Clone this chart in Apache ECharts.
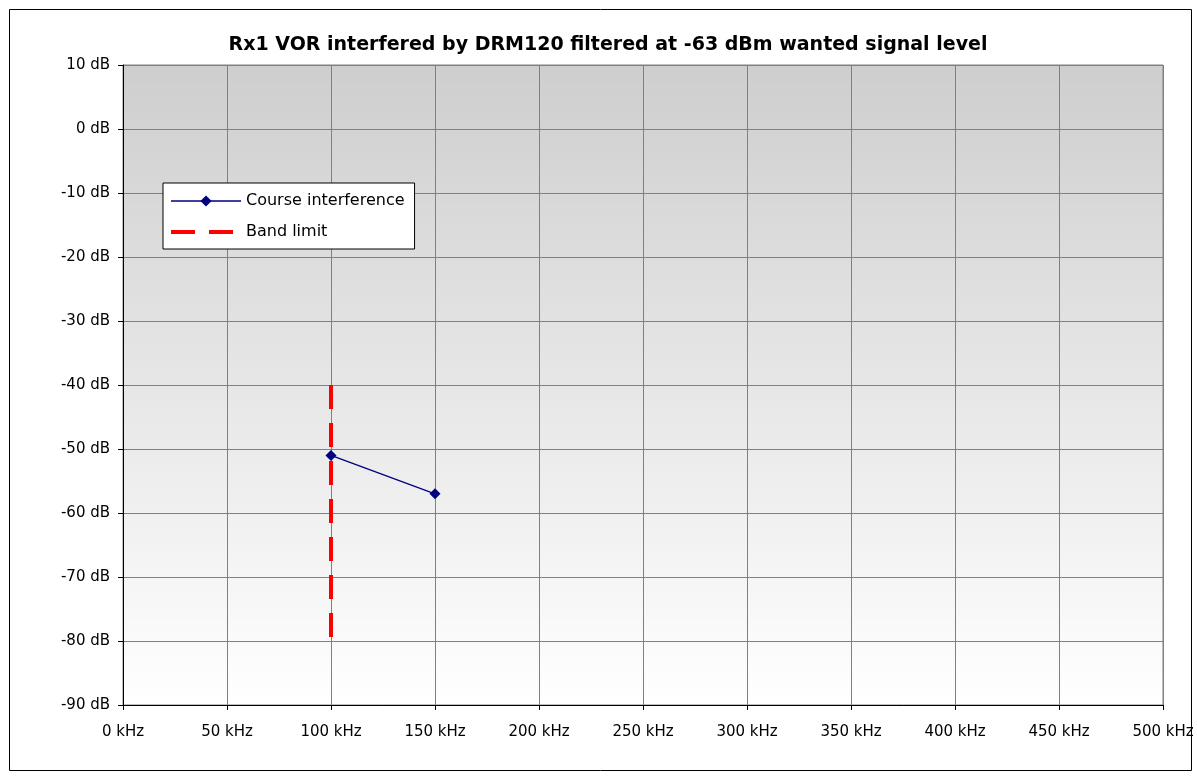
<!DOCTYPE html>
<html>
<head>
<meta charset="utf-8">
<script src="https://cdn.jsdelivr.net/npm/echarts@6/dist/echarts.min.js"></script>
<style>
  html, body { margin: 0; padding: 0; background: #fff; }
  #chart { width: 1197px; height: 776px; }
</style>
</head>
<body>
<div id="chart"></div>
<script>
// Frequency offsets (kHz) and protection ratio values (dB)
const courseFreq = [100, 150];
const courseLevel = [-51, -57];
// Vertical band limit marker
const bandFreq = [100, 100];
const bandLevel = [-40, -80];

const chart = echarts.init(document.getElementById('chart'));
const font = 'DejaVu Sans, Arial, sans-serif';

chart.setOption({
  animation: false,
  backgroundColor: '#ffffff',
  title: {
    text: 'Rx1 VOR interfered by DRM120 filtered at -63 dBm wanted signal level',
    left: 603, top: 31, textAlign: 'center',
    textStyle: { fontFamily: font, fontSize: 19, fontWeight: 'bold', color: '#000' }
  },
  graphic: [{
    type: 'rect', left: 7, top: 7, silent: true, z: -1,
    shape: { width: 1182, height: 761 },
    style: { fill: 'none', stroke: '#000', lineWidth: 1 }
  }],
  grid: {
    left: 123, top: 65, width: 1040, height: 640,
    show: true, borderColor: '#808080', borderWidth: 1,
    backgroundColor: new echarts.graphic.LinearGradient(0, 0, 0, 1, [
      { offset: 0, color: '#cecece' },
      { offset: 1, color: '#ffffff' }
    ])
  },
  legend: {
    left: 163, top: 183, orient: 'vertical',
    backgroundColor: '#ffffff', borderColor: '#000', borderWidth: 1,
    padding: [10, 10, 9, 6], itemGap: 15, itemWidth: 70, itemHeight: 14,
    textStyle: { fontFamily: font, fontSize: 16, color: '#000' },
    data: [
      { name: 'Course interference', lineStyle: { width: 1.3 } },
      { name: 'Band limit', itemStyle: { opacity: 0 }, lineStyle: { width: 4, type: [24, 14] } }
    ]
  },
  xAxis: {
    type: 'value', min: 0, max: 500, interval: 50,
    axisLine: { show: true, onZero: false, lineStyle: { color: '#000', width: 1 } },
    axisTick: { show: true, length: 5, lineStyle: { color: '#000' } },
    axisLabel: { formatter: '{value} kHz', fontFamily: font, fontSize: 15, color: '#000', margin: 20 },
    splitLine: { show: true, lineStyle: { color: '#808080', width: 1 } }
  },
  yAxis: {
    type: 'value', min: -90, max: 10, interval: 10,
    axisLine: { show: true, onZero: false, lineStyle: { color: '#000', width: 1 } },
    axisTick: { show: true, length: 5, lineStyle: { color: '#000' } },
    axisLabel: { formatter: '{value} dB', fontFamily: font, fontSize: 15, color: '#000', margin: 13 },
    splitLine: { show: true, lineStyle: { color: '#808080', width: 1 } }
  },
  series: [
    {
      name: 'Course interference', type: 'line', z: 3,
      data: courseFreq.map((f, i) => [f, courseLevel[i]]),
      symbol: 'diamond', symbolSize: 11,
      lineStyle: { color: '#000080', width: 1.3 },
      itemStyle: { color: '#000080' }
    },
    {
      name: 'Band limit', type: 'line', z: 2,
      data: bandFreq.map((f, i) => [f, bandLevel[i]]),
      symbol: 'none',
      lineStyle: { color: '#ff0000', width: 4, type: [24, 14] },
      itemStyle: { color: '#ff0000' }
    }
  ]
});
</script>
</body>
</html>
